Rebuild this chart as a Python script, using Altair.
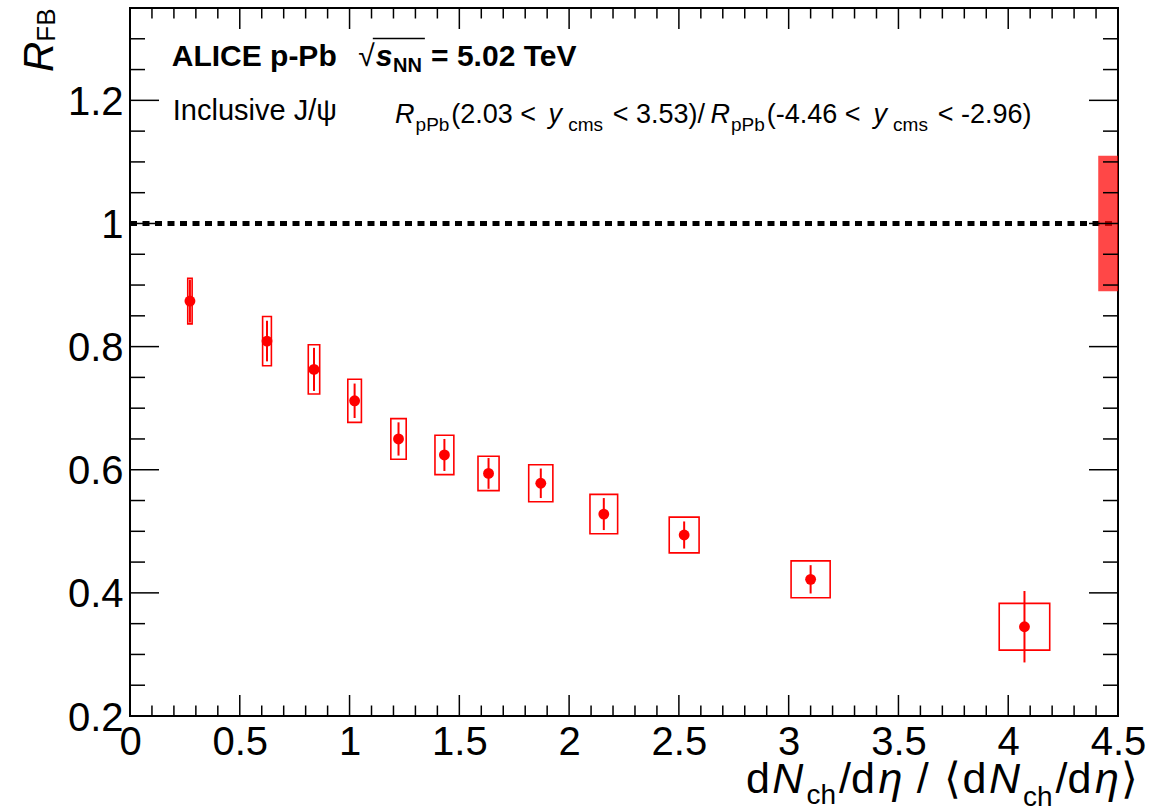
import altair as alt
import pandas as pd

# ---- data: forward/backward ratio vs relative multiplicity ----
mult = [0.273, 0.624, 0.838, 1.023, 1.223, 1.432, 1.633, 1.871, 2.158, 2.524, 3.100, 4.074]
rfb = [0.874, 0.809, 0.763, 0.712, 0.650, 0.624, 0.594, 0.578, 0.528, 0.494, 0.422, 0.345]
stat_err = [0.035, 0.033, 0.035, 0.028, 0.027, 0.026, 0.025, 0.024, 0.026, 0.022, 0.023, 0.058]
syst_err = [0.037, 0.040, 0.040, 0.035, 0.033, 0.032, 0.028, 0.030, 0.032, 0.029, 0.030, 0.038]
mult_halfwidth = [0.010, 0.020, 0.026, 0.031, 0.035, 0.043, 0.048, 0.055, 0.063, 0.068, 0.089, 0.115]

# correlated (global) uncertainty drawn around unity at the right edge
global_unc = 0.11
global_box_x = [4.41, 4.5]
unity = 1.0

# axis ranges and ticks
x_range = [0.0, 4.5]
y_range = [0.2, 1.35]
x_major = [0, 0.5, 1, 1.5, 2, 2.5, 3, 3.5, 4, 4.5]
y_major = [0.2, 0.4, 0.6, 0.8, 1.0, 1.2]
x_minor = [round(0.1 * i, 2) for i in range(46) if i % 5]
y_minor = [round(0.2 + 0.05 * i, 2) for i in range(24) if i % 4]

W, H = 988, 708
PXU = W / (x_range[1] - x_range[0])   # pixels per x unit
PYU = H / (y_range[1] - y_range[0])   # pixels per y unit
FONT = "Liberation Sans"
RED = "#ff0000"

xs = alt.Scale(domain=x_range, nice=False, zero=False)
ys = alt.Scale(domain=y_range, nice=False, zero=False)

X_AXIS = alt.Axis(values=x_major, format="~g", ticks=False, tickSize=0, domain=False, grid=False,
                  labelFont=FONT, labelFontSize=40, labelColor="black", labelPadding=6,
                  labelFlush=False, labelOverlap=False, title=None)
Y_AXIS = alt.Axis(values=y_major, format="~g", ticks=False, tickSize=0, domain=False, grid=False,
                  labelFont=FONT, labelFontSize=40, labelColor="black", labelPadding=7,
                  labelOffset=2, labelFlush=False, labelOverlap=False, title=None)


def X(field):
    return alt.X(field, type="quantitative", scale=xs, axis=X_AXIS)


def Y(field):
    return alt.Y(field, type="quantitative", scale=ys, axis=Y_AXIS)


df = pd.DataFrame({"x": mult, "y": rfb, "stat": stat_err, "syst": syst_err, "hw": mult_halfwidth})
df["x_lo"] = df.x - df.hw
df["x_hi"] = df.x + df.hw
df["sy_lo"] = df.y - df.syst
df["sy_hi"] = df.y + df.syst
df["st_lo"] = df.y - df.stat
df["st_hi"] = df.y + df.stat

layers = []

# dashed line at unity
ref = pd.DataFrame({"x0": [x_range[0]], "x1": [x_range[1]], "y": [unity]})
layers.append(
    alt.Chart(ref).mark_rule(color="black", strokeWidth=5, strokeDash=[7, 5.5])
    .encode(x=X("x0"), x2="x1", y=Y("y"))
)

# global uncertainty box
gbox = pd.DataFrame({"x0": [global_box_x[0]], "x1": [global_box_x[1]],
                     "y0": [unity - global_unc], "y1": [unity + global_unc]})
layers.append(
    alt.Chart(gbox).mark_rect(color=RED, opacity=0.72)
    .encode(x=X("x0"), x2="x1", y=Y("y0"), y2="y1")
)

# systematic boxes
layers.append(
    alt.Chart(df).mark_rect(fillOpacity=0, stroke=RED, strokeWidth=1.6)
    .encode(x=X("x_lo"), x2="x_hi", y=Y("sy_lo"), y2="sy_hi")
)
# statistical error bars
layers.append(
    alt.Chart(df).mark_rule(color=RED, strokeWidth=2)
    .encode(x=X("x"), y=Y("st_lo"), y2="st_hi")
)
# markers
layers.append(
    alt.Chart(df).mark_circle(color=RED, size=118, opacity=1)
    .encode(x=X("x"), y=Y("y"))
)


# inward ticks on all four sides
def tick_layer(values, axis, side, length):
    d = pd.DataFrame({"v": values})
    m = alt.Chart(d).mark_rule(color="black", strokeWidth=1.5)
    if axis == "x":
        y0, y1 = (H, H - length) if side == "bottom" else (0, length)
        return m.encode(x=X("v"), y=alt.value(y0), y2=alt.value(y1))
    x0, x1 = (0, length) if side == "left" else (W, W - length)
    return m.encode(y=Y("v"), x=alt.value(x0), x2=alt.value(x1))


for side in ("bottom", "top"):
    layers.append(tick_layer(x_major, "x", side, 21))
    layers.append(tick_layer(x_minor, "x", side, 10.5))
for side in ("left", "right"):
    layers.append(tick_layer(y_major, "y", side, 29))
    layers.append(tick_layer(y_minor, "y", side, 15))

# ---- rich text built from runs (normal / italic / sub) ----
REG = {" ": 278, "(": 333, ")": 333, "-": 333, ".": 278, "/": 278, "<": 584, "=": 584,
       "A": 667, "B": 667, "C": 722, "E": 667, "F": 611, "I": 278, "J": 500, "N": 722,
       "P": 667, "R": 722, "T": 611, "V": 667, "b": 556, "c": 500, "d": 556, "e": 556,
       "h": 556, "i": 222, "l": 222, "m": 833, "n": 556, "p": 556, "s": 500, "u": 556,
       "v": 500, "y": 500, "η": 556, "⟨": 390, "⟩": 390, "√": 549}
BOLD = {" ": 278, "-": 333, ".": 278, "=": 584, "A": 722, "C": 722, "E": 667, "I": 278,
        "L": 611, "N": 722, "P": 667, "T": 611, "V": 667, "b": 611, "e": 556, "p": 611,
        "s": 556, "√": 549}


def text_width(s, size, bold=False):
    table = BOLD if bold else REG
    return sum(table.get(ch, 556) for ch in s) * size / 1000.0


def rich_text(ax, ay, runs, dx0, dy0, spread=1.0, angle=None):
    """runs: (text, size, style, weight, baseline shift)."""
    out, spans, cursor = [], [], 0.0
    for t, size, style, weight, shift in runs:
        bold = weight == "bold"
        lead = text_width(t[: len(t) - len(t.lstrip())], size, bold)
        start = dx0 + cursor * spread
        spans.append((start, start + text_width(t, size, bold)))
        props = dict(align="left", baseline="alphabetic", dx=start + lead, dy=dy0 + shift,
                     font=FONT, fontSize=size, fontStyle=style, fontWeight=weight, color="black")
        if angle is not None:
            props["angle"] = angle
        d = pd.DataFrame({"x": [ax], "y": [ay], "t": [t.strip()]})
        out.append(alt.Chart(d).mark_text(**props).encode(x=X("x"), y=Y("y"), text="t:N"))
        cursor += text_width(t, size, bold)
    return out, spans


# ALICE p-Pb √sNN = 5.02 TeV
alice_x, alice_y = 0.19, 1.255
alice_runs = [
    ("ALICE p-Pb", 30, "normal", "bold", 0),
    ("  √", 30, "normal", "normal", 0),
    ("s", 30, "italic", "bold", 0),
    ("NN", 20, "normal", "bold", 6),
    (" = 5.02 TeV", 30, "normal", "bold", 0),
]
t_layers, spans = rich_text(alice_x, alice_y, alice_runs, 0, 0, spread=1.03)
layers += t_layers
# overline of the square root
bar = pd.DataFrame({"x0": [alice_x + (spans[1][1] - 2) / PXU],
                    "x1": [alice_x + (spans[3][1] + 3) / PXU],
                    "y": [alice_y + 28 / PYU]})
layers.append(alt.Chart(bar).mark_rule(color="black", strokeWidth=1.6)
              .encode(x=X("x0"), x2="x1", y=Y("y")))

# Inclusive J/psi
t_layers, _ = rich_text(0.195, 1.168, [("Inclusive J/ψ", 29, "normal", "normal", 0)], 0, 0)
layers += t_layers

# rapidity ranges
rp_runs = [
    ("R", 27, "italic", "normal", 0), ("pPb", 19, "normal", "normal", 8),
    ("(2.03 < ", 27, "normal", "normal", 0), ("y", 27, "italic", "normal", 0),
    (" cms", 19, "normal", "normal", 8), (" < 3.53)/", 27, "normal", "normal", 0),
    ("R", 27, "italic", "normal", 0), ("pPb", 19, "normal", "normal", 8),
    ("(-4.46 < ", 27, "normal", "normal", 0), ("y", 27, "italic", "normal", 0),
    (" cms", 19, "normal", "normal", 8), (" < -2.96)", 27, "normal", "normal", 0),
]
t_layers, _ = rich_text(1.207, 1.163, rp_runs, 0, 0, spread=1.055)
layers += t_layers

# x-axis title: dNch/deta / <dNch/deta>
xt_runs = [
    ("d", 43, "normal", "normal", 0), ("N", 43, "italic", "normal", 0),
    ("ch", 28, "normal", "normal", 11), ("/d", 43, "normal", "normal", 0),
    ("η", 43, "italic", "normal", 0), (" / ", 43, "normal", "normal", 0),
    ("⟨", 43, "normal", "normal", 0), ("d", 43, "normal", "normal", 0),
    ("N", 43, "italic", "normal", 0), ("ch", 28, "normal", "normal", 13),
    ("/d", 43, "normal", "normal", 0), ("η", 43, "italic", "normal", 0),
    ("⟩", 43, "normal", "normal", 0),
]
t_layers, _ = rich_text(x_range[1], y_range[0], xt_runs, -372, 77, spread=1.1)
layers += t_layers

# y-axis title: R_FB, rotated
yt_runs = [("R", 42, "italic", "normal", 0), ("FB", 26, "normal", "normal", 2)]
t_layers, _ = rich_text(x_range[0], y_range[1], yt_runs, -64, -77, angle=270)
layers += t_layers

chart = (
    alt.layer(*layers)
    .properties(
        width=W, height=H,
        padding={"left": 130, "top": 8, "right": 49, "bottom": 96},
        autosize=alt.AutoSizeParams(type="none"),
        background="white",
    )
    .configure_view(stroke="black", strokeWidth=2)
)

chart.save("out.html", embed_options={"renderer": "svg", "actions": False})
